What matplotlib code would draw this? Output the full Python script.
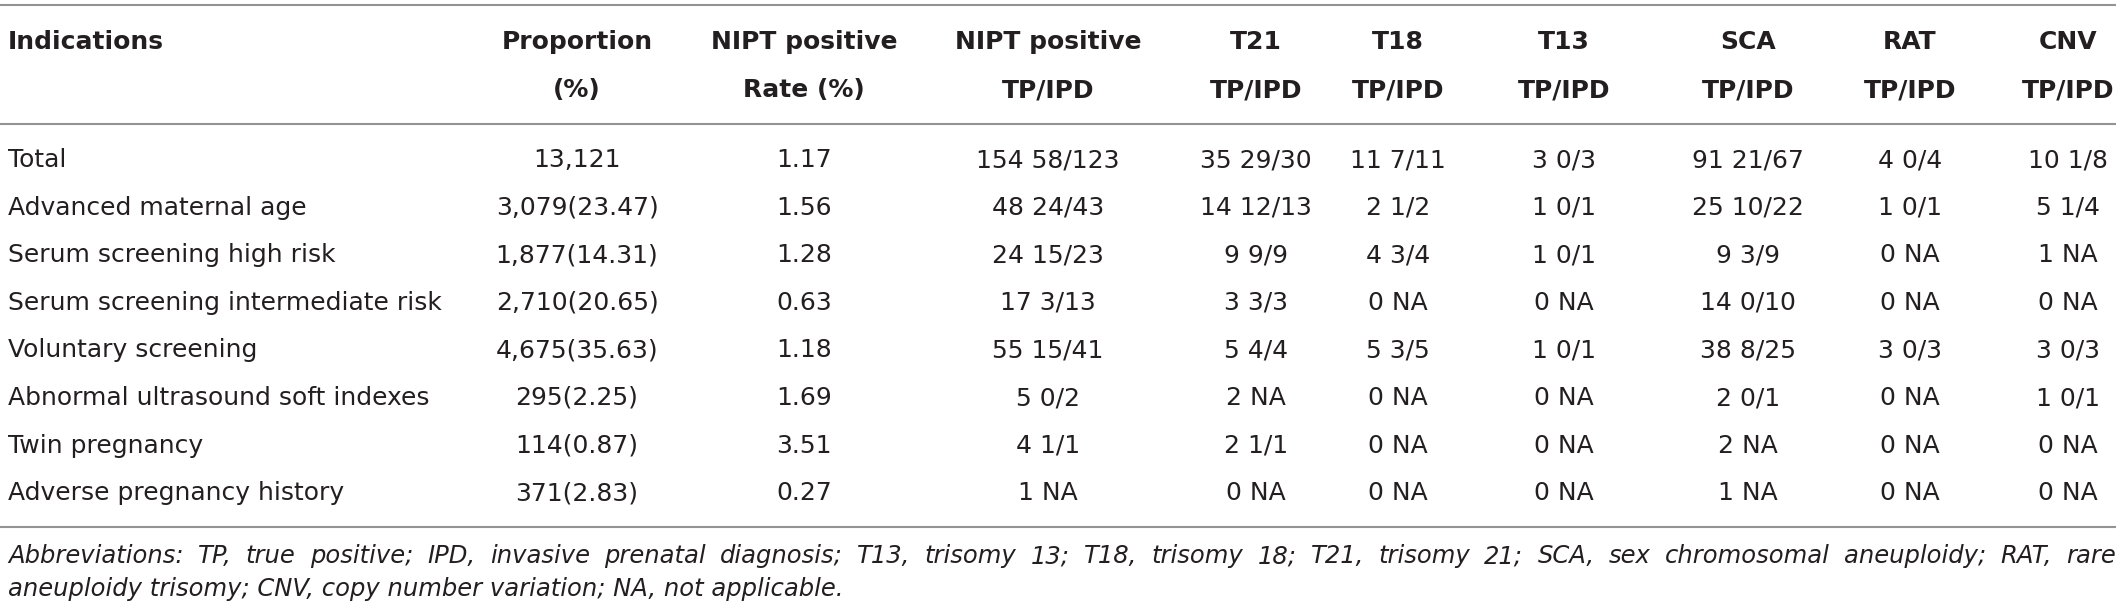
import matplotlib
matplotlib.use("Agg")
import matplotlib.pyplot as plt

plt.rcParams['font.family'] = ['DejaVu Sans']

# table content
indications = ["Total", "Advanced maternal age", "Serum screening high risk",
               "Serum screening intermediate risk", "Voluntary screening",
               "Abnormal ultrasound soft indexes", "Twin pregnancy",
               "Adverse pregnancy history"]
proportion = ["13,121", "3,079(23.47)", "1,877(14.31)", "2,710(20.65)",
              "4,675(35.63)", "295(2.25)", "114(0.87)", "371(2.83)"]
nipt_rate = ["1.17", "1.56", "1.28", "0.63", "1.18", "1.69", "3.51", "0.27"]
nipt_tp = ["154 58/123", "48 24/43", "24 15/23", "17 3/13", "55 15/41",
           "5 0/2", "4 1/1", "1 NA"]
t21 = ["35 29/30", "14 12/13", "9 9/9", "3 3/3", "5 4/4", "2 NA", "2 1/1", "0 NA"]
t18 = ["11 7/11", "2 1/2", "4 3/4", "0 NA", "5 3/5", "0 NA", "0 NA", "0 NA"]
t13 = ["3 0/3", "1 0/1", "1 0/1", "0 NA", "1 0/1", "0 NA", "0 NA", "0 NA"]
sca = ["91 21/67", "25 10/22", "9 3/9", "14 0/10", "38 8/25", "2 0/1", "2 NA", "1 NA"]
rat = ["4 0/4", "1 0/1", "0 NA", "0 NA", "3 0/3", "0 NA", "0 NA", "0 NA"]
cnv = ["10 1/8", "5 1/4", "1 NA", "0 NA", "3 0/3", "1 0/1", "0 NA", "0 NA"]

headers = [("Proportion", "(%)"), ("NIPT positive", "Rate (%)"),
           ("NIPT positive", "TP/IPD"), ("T21", "TP/IPD"), ("T18", "TP/IPD"),
           ("T13", "TP/IPD"), ("SCA", "TP/IPD"), ("RAT", "TP/IPD"),
           ("CNV", "TP/IPD")]
columns = [proportion, nipt_rate, nipt_tp, t21, t18, t13, sca, rat, cnv]

footnote = ["Abbreviations: TP, true positive; IPD, invasive prenatal diagnosis; "
            "T13, trisomy 13; T18, trisomy 18; T21, trisomy 21; SCA, sex "
            "chromosomal aneuploidy; RAT, rare",
            "aneuploidy trisomy; CNV, copy number variation; NA, not applicable."]

W, H = 2120, 612
fig = plt.figure(figsize=(W / 100, H / 100), dpi=100)
ax = fig.add_axes([0, 0, 1, 1])
ax.set_xlim(0, W)
ax.set_ylim(H, 0)
ax.axis('off')

txt = '#231f20'
rule = '#939393'
fs = 18
col_x = [577, 804, 1048, 1256, 1398, 1564, 1748, 1910, 2068]
left = 8
right = 2116

for y in (5, 124, 527):
    ax.plot([0, right], [y, y], color=rule, lw=1.5, solid_capstyle='butt')

# header
ax.text(left, 42, "Indications", ha='left', va='center', fontsize=fs,
        fontweight='bold', color=txt)
for x, (h1, h2) in zip(col_x, headers):
    ax.text(x, 42, h1, ha='center', va='center', fontsize=fs,
            fontweight='bold', color=txt)
    ax.text(x, 90, h2, ha='center', va='center', fontsize=fs,
            fontweight='bold', color=txt)

# rows
row_y0, row_dy = 160, 47.6
for i, name in enumerate(indications):
    y = row_y0 + i * row_dy
    ax.text(left, y, name, ha='left', va='center', fontsize=fs, color=txt)
    for x, col in zip(col_x, columns):
        ax.text(x, y, col[i], ha='center', va='center', fontsize=fs, color=txt)

# footnote, first line justified to the full width
fn_fs = 17.5
renderer = fig.canvas.get_renderer()
words = footnote[0].split(' ')
items = [ax.text(0, 556, w, ha='left', va='center', fontsize=fn_fs,
                 style='italic', color=txt) for w in words]
widths = [t.get_window_extent(renderer).width for t in items]
gap = (right - left - sum(widths)) / (len(words) - 1)
x = left
for t, w in zip(items, widths):
    t.set_x(x)
    x += w + gap
ax.text(left, 589, footnote[1], ha='left', va='center', fontsize=fn_fs,
        style='italic', color=txt)

fig.savefig("out.png", dpi=100)
